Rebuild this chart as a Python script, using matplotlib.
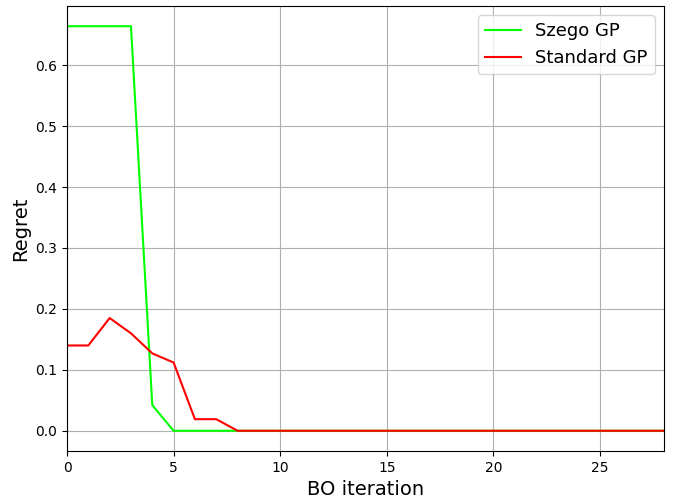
import matplotlib
matplotlib.use("Agg")
import matplotlib.pyplot as plt
import numpy as np

iterations = list(range(29))
szego_gp = [0.664, 0.664, 0.664, 0.664, 0.042] + [0.0] * 24
standard_gp = [0.140, 0.140, 0.185, 0.160, 0.127, 0.112, 0.019, 0.019] + [0.0] * 21

fig = plt.figure(figsize=(6.77, 4.98), dpi=100)
ax = fig.add_axes([67/677, 1 - 451/498, (664-67)/677, (451-6)/498])
ax.plot(iterations, szego_gp, color="#00ff00", label="Szego GP")
ax.plot(iterations, standard_gp, color="red", label="Standard GP")
ax.set_xlim(0, 28)
ax.set_xlabel("BO iteration", fontsize=14)
ax.set_ylabel("Regret", fontsize=14)
ax.grid(True)
ax.legend(fontsize=13, loc="upper right")
fig.savefig("out.png", dpi=100)
